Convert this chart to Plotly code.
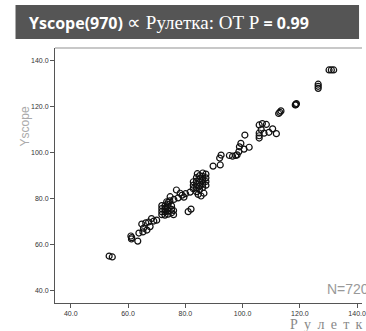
import plotly.graph_objects as go

# Data (Рулетка vs Yscope)
ruletka = [53.4, 54.5,
           61.0, 61.2, 61.3, 63.4, 63.8, 64.8, 65.2, 65.4, 66.2, 66.6, 67.2, 67.7, 69.0, 68.2, 70.0,
           71.8, 71.8, 71.8, 71.8, 72.9, 72.9, 72.9, 72.9, 74.0, 74.0, 74.0, 74.0, 74.0, 75.2, 75.2, 75.2,
           75.9, 75.9, 73.5, 74.6, 76.0, 73.2,
           74.7, 76.9, 78.2, 77.5, 78.9, 80.1, 81.7, 79.5,
           81.0, 82.0,
           82.8, 82.8, 82.8, 83.9, 83.9, 83.9, 83.9, 83.9, 85.0, 85.0, 85.0, 85.0, 85.0,
           86.1, 86.1, 86.1, 86.1, 86.1, 87.2, 87.2, 87.2, 87.2, 84.5, 85.5, 86.5, 84.2,
           89.7, 92.2, 92.5, 92.0,
           95.4, 96.5, 97.6, 98.1, 98.7, 98.9, 99.4, 100.5, 102.3, 100.8,
           105.8, 105.8, 105.8, 105.8, 106.5, 107.5, 106.9, 108.3, 109.2, 111.8, 110.5,
           112.6, 113.0, 113.4,
           118.4, 118.6, 118.8, 118.6,
           126.4, 126.4, 126.4,
           130.2, 131.0, 131.8]
yscope = [55.2, 54.8,
          63.9, 62.6, 63.2, 61.7, 65.2, 69.1, 65.7, 67.3, 69.6, 66.5, 70.0, 68.0, 70.4, 71.5, 70.8,
          73.2, 74.5, 75.8, 77.1, 73.0, 74.4, 75.7, 77.0, 73.4, 74.8, 76.2, 77.6, 78.5, 74.0, 75.5, 77.0,
          73.2, 75.0, 78.8, 79.2, 79.8, 76.3,
          81.0, 83.9, 82.5, 80.5, 81.7, 82.3, 83.0, 80.8,
          74.5, 75.6,
          84.5, 86.0, 87.5, 83.2, 84.8, 86.3, 87.8, 89.3, 84.0, 85.6, 87.2, 88.7, 90.2,
          85.0, 86.6, 88.2, 89.8, 91.3, 86.0, 87.6, 89.2, 90.8, 82.0, 81.3, 82.5, 91.0,
          94.3, 94.8, 99.1, 97.8,
          98.9, 98.6, 98.9, 99.2, 100.6, 102.7, 104.2, 101.7, 102.5, 107.8,
          112.2, 108.7, 107.5, 106.5, 110.2, 108.6, 112.8, 112.4, 109.0, 108.4, 110.5,
          117.2, 117.7, 118.3,
          120.9, 121.2, 121.5, 121.0,
          129.9, 129.0, 128.1,
          136.1, 136.1, 136.1]
tick_vals = [40, 60, 80, 100, 120, 140]
tick_text = ["40.0", "60.0", "80.0", "100.0", "120.0", "140.0"]

fig = go.Figure()
fig.add_trace(go.Scatter(
    x=ruletka, y=yscope, mode="markers",
    marker=dict(symbol="circle-open", size=6, color="#111111", line=dict(width=1.2)),
    showlegend=False, cliponaxis=False,
))

axis_common = dict(
    showgrid=False, zeroline=False, showline=True, linecolor="#555555", linewidth=1,
    ticks="outside", ticklen=4, tickcolor="#555555", tickwidth=1,
    tickfont=dict(family="Liberation Sans, Arial", size=7, color="#333333"),
    tickvals=tick_vals, ticktext=tick_text, ticklabeloverflow="allow",
)
fig.update_xaxes(range=[34.5, 141.7], **axis_common)
fig.update_yaxes(range=[34.78, 145.65], **axis_common)

W, H = 366, 331
L, R, T, B = 55, 0, 48, 28
pw, ph = W - L - R, H - T - B


def px(x):
    return (x - L) / pw


def py(y):
    return (H - B - y) / ph


shapes = [
    dict(type="rect", xref="paper", yref="paper", x0=px(15), x1=px(363), y0=py(39), y1=py(5),
         fillcolor="#555555", line=dict(width=0), layer="below"),
    dict(type="line", xref="paper", yref="paper", x0=0, x1=1, y0=1, y1=1,
         line=dict(color="#c8c8c8", width=2)),
]

sp = " \u2009"
annotations = [
    dict(xref="paper", yref="paper", x=px(27), y=py(23), xanchor="left", yanchor="middle",
         showarrow=False,
         text="<b>Yscope(970)</b> <span style=\"font-family:Liberation Serif,serif;font-size:19px\">∝ Рулетка: ОТ Р</span> <b>= 0.99</b>",
         font=dict(family="Open Sans", size=16, color="#ffffff")),
    dict(xref="paper", yref="paper", x=px(25), y=py(126), xanchor="center", yanchor="middle",
         showarrow=False, textangle=-90, text="Yscope",
         font=dict(family="Liberation Sans, Arial", size=12, color="#aaaaaa")),
    dict(xref="paper", yref="paper", x=px(329), y=py(289), xanchor="left", yanchor="middle",
         showarrow=False, text="N=720",
         font=dict(family="Liberation Sans, Arial", size=14, color="#999999")),
    dict(xref="paper", yref="paper", x=px(291), y=py(324), xanchor="left", yanchor="middle",
         showarrow=False, text=sp.join("Рулетка"),
         font=dict(family="Liberation Serif, Times New Roman", size=14, color="#888888")),
]

fig.update_layout(
    width=W, height=H, margin=dict(l=L, r=R, t=T, b=B, pad=0),
    paper_bgcolor="white", plot_bgcolor="white",
    shapes=shapes, annotations=annotations,
)
fig.write_html("out.html")
